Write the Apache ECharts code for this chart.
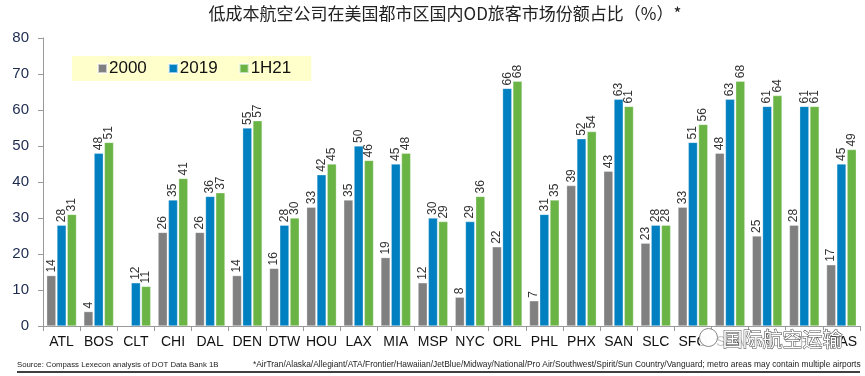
<!DOCTYPE html>
<html>
<head>
<meta charset="utf-8">
<script src="https://cdn.jsdelivr.net/npm/echarts@6/dist/echarts.min.js"></script>
<style>
  html, body { margin: 0; padding: 0; background: #fff; }
  #chart { width: 865px; height: 376px; }
</style>
</head>
<body>
<div id="chart"></div>
<script>
// 都市区
const cities = ['ATL', 'BOS', 'CLT', 'CHI', 'DAL', 'DEN', 'DTW', 'HOU', 'LAX', 'MIA', 'MSP',
  'NYC', 'ORL', 'PHL', 'PHX', 'SAN', 'SLC', 'SFO', 'SEA', 'STL', 'TPA', 'WAS'];
// 各年份份额（%）
const share2000 = [14, 4, null, 26, 26, 14, 16, 33, 35, 19, 12, 8, 22, 7, 39, 43, 23, 33, 48, 25, 28, 17];
const share2019 = [28, 48, 12, 35, 36, 55, 28, 42, 50, 45, 30, 29, 66, 31, 52, 63, 28, 51, 63, 61, 61, 45];
const share1H21 = [31, 51, 11, 41, 37, 57, 30, 45, 46, 48, 29, 36, 68, 35, 54, 61, 28, 56, 68, 64, 61, 49];
const yTicks = [0, 10, 20, 30, 40, 50, 60, 70, 80];

const barLabel = {
  show: true,
  position: 'top',
  rotate: 90,
  align: 'left',
  verticalAlign: 'middle',
  distance: 3,
  fontFamily: 'Liberation Sans',
  fontSize: 12,
  color: '#333',
};

function makeSeries(name, data, color) {
  return {
    type: 'bar',
    name,
    data,
    barGap: '12%',
    barCategoryGap: '20%',
    itemStyle: { color, borderColor: 'rgba(255,255,255,0.6)', borderWidth: 0.5 },
    label: barLabel,
  };
}

const myChart = echarts.init(document.getElementById('chart'));
const options = {
  animation: false,
  title: {
    text: '低成本航空公司在美国都市区国内OD旅客市场份额占比（%）*',
    left: 440,
    textAlign: 'center',
    top: 0,
    textStyle: { fontFamily: 'Noto Sans CJK SC', fontSize: 17, fontWeight: 'normal', color: '#222' },
  },
  legend: {
    left: 72,
    top: 56,
    backgroundColor: '#FFFFCC',
    padding: [4, 20, 4, 25],
    itemGap: 21,
    itemWidth: 9,
    itemHeight: 9,
    icon: 'rect',
    textStyle: { fontFamily: 'Liberation Sans', fontSize: 17, color: '#111', padding: [0, 0, 0, -3] },
  },
  grid: { left: 43, right: 5, top: 38, bottom: 50 },
  xAxis: {
    type: 'category',
    data: cities,
    axisLine: { lineStyle: { color: '#999' } },
    axisTick: { show: true, length: 5, lineStyle: { color: '#999' } },
    axisLabel: { interval: 0, fontFamily: 'Liberation Sans', fontSize: 14, color: '#111', margin: 9 },
  },
  yAxis: {
    type: 'value',
    min: yTicks[0],
    max: yTicks[yTicks.length - 1],
    interval: 10,
    splitLine: { show: false },
    axisLine: { show: true, lineStyle: { color: '#999' } },
    axisTick: { show: true, length: 5, lineStyle: { color: '#999' } },
    axisLabel: { fontFamily: 'Liberation Sans', fontSize: 15, color: '#1c2a4e', margin: 14 },
  },
  series: [
    makeSeries('2000', share2000, '#808080'),
    makeSeries('2019', share2019, '#0080c0'),
    makeSeries('1H21', share1H21, '#6ab446'),
  ],
  graphic: [
    // 水印
    { type: 'rect', left: 700, top: 330, shape: { width: 142, height: 22, r: 4 },
      style: { fill: 'rgba(255,255,255,0.75)' }, z: 100 },
    { type: 'circle', left: 699, top: 328, shape: { r: 9 },
      style: { fill: 'rgba(255,255,255,0.9)', stroke: '#888', lineWidth: 1 }, z: 101 },
    { type: 'text', left: 722, top: 329,
      style: { text: '国际航空运输', fontFamily: 'Noto Sans CJK SC', fontSize: 20,
        fill: '#fff', stroke: '#444', lineWidth: 1 }, z: 102 },
    // 脚注
    { type: 'text', left: 17, top: 361,
      style: { text: 'Source: Compass Lexecon analysis of DOT Data Bank 1B',
        fontFamily: 'Liberation Sans', fontSize: 7.8, fill: '#222' } },
    { type: 'text', left: 253, top: 361,
      style: { text: '*AirTran/Alaska/Allegiant/ATA/Frontier/Hawaiian/JetBlue/Midway/National/Pro Air/Southwest/Spirit/Sun Country/Vanguard; metro areas may contain multiple airports',
        fontFamily: 'Liberation Sans', fontSize: 8.4, fill: '#222' } },
    { type: 'line', shape: { x1: 17, y1: 372, x2: 860, y2: 372 },
      style: { stroke: '#000', lineWidth: 1.5 } },
  ],
};
myChart.setOption(options);
</script>
</body>
</html>
